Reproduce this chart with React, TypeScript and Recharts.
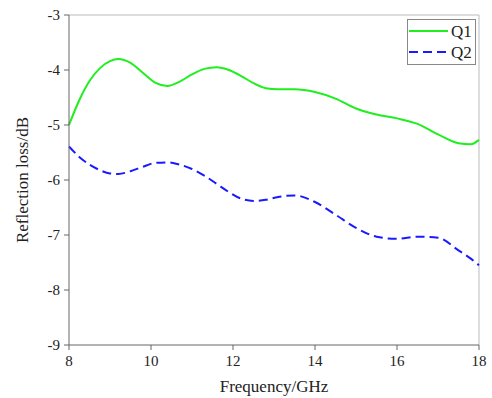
import React from 'react';
import { LineChart, Line, XAxis, YAxis, ReferenceLine } from 'recharts';

const freqs = [8, 8.25, 8.5, 8.75, 9, 9.2, 9.5, 9.8, 10.1, 10.4, 10.7, 11, 11.3, 11.6, 11.9, 12.2, 12.5, 12.8, 13.1, 13.5, 14, 14.5, 15, 15.5, 16, 16.5, 17, 17.5, 17.8, 18];
const q1 = [-5.0, -4.55, -4.2, -3.97, -3.84, -3.8, -3.87, -4.05, -4.23, -4.29, -4.21, -4.08, -3.98, -3.95, -4.0, -4.11, -4.24, -4.33, -4.35, -4.35, -4.4, -4.52, -4.7, -4.81, -4.88, -4.98, -5.17, -5.33, -5.35, -5.27];
const q2 = [-5.39, -5.58, -5.72, -5.82, -5.88, -5.89, -5.84, -5.76, -5.69, -5.68, -5.72, -5.8, -5.92, -6.07, -6.22, -6.34, -6.38, -6.36, -6.31, -6.28, -6.4, -6.63, -6.87, -7.03, -7.07, -7.03, -7.05, -7.28, -7.43, -7.55];

const xTicks = [8, 10, 12, 14, 16, 18];
const xMinor = [9, 11, 13, 15, 17];
const yTicks = [-9, -8, -7, -6, -5, -4, -3];
const yMinor = [-8.5, -7.5, -6.5, -5.5, -4.5, -3.5];

const data = freqs.map((f, i) => ({ f, q1: q1[i], q2: q2[i] }));

const font = '"Liberation Serif", "Times New Roman", serif';
const axisColor = '#666';
const green = '#1fee1f';
const blue = '#1a1aff';
const textStyle = { fontFamily: font, fill: '#222' };

const XTick = (props: any) => (
  <text x={props.x} y={props.y} dy="0.71em" textAnchor="middle" style={{ ...textStyle, fontSize: 15 }}>
    {props.payload.value}
  </text>
);

const YTick = (props: any) => (
  <text x={props.x} y={props.y} dy="0.355em" textAnchor="end" style={{ ...textStyle, fontSize: 15 }}>
    {props.payload.value}
  </text>
);

// legend box drawn over the chart (a recharts Legend would steal plot height)
const LegendBox = () => (
  <svg width={69} height={46} style={{ position: 'absolute', left: 407, top: 19, display: 'block' }}>
    <rect x={0.5} y={0.5} width={68} height={45} fill="#fff" stroke="#888" />
    <line x1={2} x2={41} y1={12} y2={12} stroke={green} strokeWidth={2} />
    <text x={44} y={17.5} style={{ ...textStyle, fontSize: 17 }}>Q1</text>
    <line x1={2} x2={41} y1={33} y2={33} stroke={blue} strokeWidth={2} strokeDasharray="9 5" />
    <text x={44} y={38.5} style={{ ...textStyle, fontSize: 17 }}>Q2</text>
  </svg>
);

const App: React.FC = () => {
  return (
    <div style={{ position: 'absolute', left: 0, top: 0, width: 492, height: 398, background: '#fff', fontFamily: font }}>
      <LineChart width={492} height={398} data={data} margin={{ top: 15, right: 13, bottom: 0, left: 0 }}>
        <XAxis
          xAxisId="main"
          dataKey="f"
          type="number"
          domain={[8, 18]}
          ticks={xTicks}
          height={53}
          tickSize={5}
          tickMargin={5}
          stroke={axisColor}
          tick={<XTick />}
          label={{ value: 'Frequency/GHz', position: 'insideBottom', offset: 6, style: { ...textStyle, fontSize: 17 } }}
        />
        <XAxis
          xAxisId="minor"
          dataKey="f"
          type="number"
          domain={[8, 18]}
          ticks={xMinor}
          height={0}
          tickSize={3}
          axisLine={false}
          stroke={axisColor}
          tick={() => <g />}
        />
        <YAxis
          yAxisId="main"
          type="number"
          domain={[-9, -3]}
          ticks={yTicks}
          width={69}
          tickSize={5}
          tickMargin={4}
          stroke={axisColor}
          tick={<YTick />}
          label={{ value: 'Reflection loss/dB', angle: -90, position: 'insideLeft', offset: 22, style: { ...textStyle, fontSize: 17, textAnchor: 'middle' } }}
        />
        <YAxis
          yAxisId="minor"
          type="number"
          domain={[-9, -3]}
          ticks={yMinor}
          width={0}
          tickSize={3}
          axisLine={false}
          stroke={axisColor}
          tick={() => <g />}
        />
        <ReferenceLine xAxisId="main" yAxisId="main" y={-3} stroke="#bbb" />
        <ReferenceLine xAxisId="main" yAxisId="main" x={18} stroke="#bbb" />
        <Line xAxisId="main" yAxisId="main" type="monotone" dataKey="q1" name="Q1" stroke={green} strokeWidth={2} dot={false} isAnimationActive={false} />
        <Line xAxisId="main" yAxisId="main" type="monotone" dataKey="q2" name="Q2" stroke={blue} strokeWidth={2} strokeDasharray="9 5" dot={false} isAnimationActive={false} />
      </LineChart>
      <LegendBox />
    </div>
  );
};

export default App;
